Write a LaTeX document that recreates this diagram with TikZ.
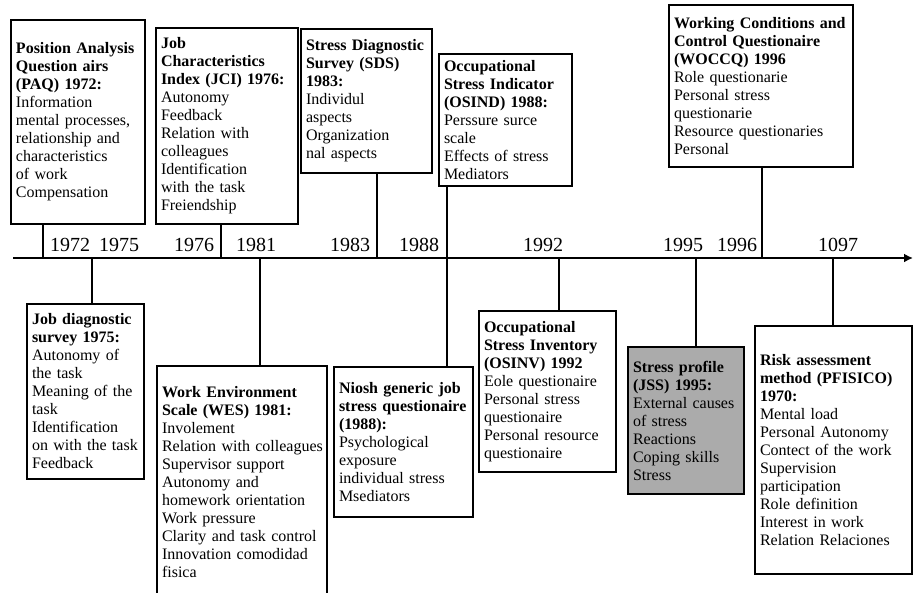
\documentclass[tikz,border=0pt]{standalone}
\usepackage{fontspec}
\setmainfont{Liberation Serif}
\usepackage{tikz}
\usetikzlibrary{arrows.meta}
\tikzstyle{box} = [rectangle, draw=black, line width=2pt, anchor=north west, inner xsep=5pt, inner ysep=0pt, align=left, font=\fontsize{16}{18}\selectfont]
\tikzstyle{greybox} = [box, fill=black!33]
\tikzstyle{year} = [font=\fontsize{20}{22}\selectfont, inner sep=0pt]
\tikzstyle{conn} = [line width=2pt]
\tikzstyle{axis} = [line width=2pt, -{Latex[length=9pt,width=9pt]}]

\begin{document}
\begin{tikzpicture}[x=1pt,y=-1pt]
\useasboundingbox (0,0) rectangle (913,592);
%boxes above the axis
\node[box, minimum width=134, minimum height=204, text width=124](paq) at (10,19){\textbf{Position Analysis}\\\textbf{Question airs}\\\textbf{(PAQ) 1972:}\\Information\\mental processes,\\relationship and\\characteristics\\of work\\Compensation};
\node[box, minimum width=142, minimum height=196, text width=132](jci) at (155,27){\textbf{Job}\\\textbf{Characteristics}\\\textbf{Index (JCI) 1976:}\\Autonomy\\Feedback\\Relation with\\colleagues\\Identification\\with the task\\Freiendship};
\node[box, minimum width=131, minimum height=144, text width=121](sds) at (300,28){\textbf{Stress Diagnostic}\\\textbf{Survey (SDS)}\\\textbf{1983:}\\Individul\\aspects\\Organization\\nal aspects};
\node[box, minimum width=133, minimum height=132, text width=123](osind) at (438,53){\textbf{Occupational}\\\textbf{Stress Indicator}\\\textbf{(OSIND) 1988:}\\Perssure surce\\scale\\Effects of stress\\Mediators};
\node[box, minimum width=184, minimum height=162, text width=174](woccq) at (668,4){\mbox{\textbf{Working Conditions and}}\\\textbf{Control Questionaire}\\\textbf{(WOCCQ) 1996}\\Role questionarie\\Personal stress\\questionarie\\Resource questionaries\\Personal};
%boxes below the axis
\node[box, minimum width=117, minimum height=175, text width=107](jds) at (26,303){\textbf{Job diagnostic}\\\textbf{survey 1975:}\\Autonomy of\\the task\\Meaning of the\\task\\Identification\\\mbox{on with the task}\\Feedback};
\node[box, minimum width=170, minimum height=232, text width=160](wes) at (156,365){\textbf{Work Environment}\\\textbf{Scale (WES) 1981:}\\Involement\\\mbox{Relation with colleagues}\\Supervisor support\\Autonomy and\\homework orientation\\Work pressure\\\mbox{Clarity and task control}\\Innovation comodidad\\fisica};
\node[box, minimum width=139, minimum height=150, text width=129](niosh) at (333,366){\textbf{Niosh generic job}\\\mbox{\textbf{stress questionaire}}\\\textbf{(1988):}\\Psychological\\exposure\\individual stress\\Msediators};
\node[box, minimum width=137, minimum height=161, text width=127](osinv) at (478,310){\textbf{Occupational}\\\textbf{Stress Inventory}\\\textbf{(OSINV) 1992}\\Eole questionaire\\Personal stress\\questionaire\\Personal resource\\questionaire};
\node[greybox, minimum width=116, minimum height=147, text width=106](jss) at (627,346){\textbf{Stress profile}\\\textbf{(JSS) 1995:}\\External causes\\of stress\\Reactions\\Coping skills\\Stress};
\node[box, minimum width=157, minimum height=248, text width=147](risk) at (754,325){\textbf{Risk assessment}\\\textbf{method (PFISICO)}\\\textbf{1970:}\\Mental load\\Personal Autonomy\\Contect of the work\\Supervision\\participation\\Role definition\\Interest in work\\Relation Relaciones};
%axis and the points on it
\coordinate (axstart) at (13,258);
\coordinate (axend) at (913,258);
\coordinate (paqax) at (43,258);
\coordinate (jdsax) at (92,258);
\coordinate (jciax) at (221,258);
\coordinate (wesax) at (260,258);
\coordinate (sdsax) at (377,258);
\coordinate (osax) at (447,258);
\coordinate (osinvax) at (559,258);
\coordinate (jssax) at (696,258);
\coordinate (woccqax) at (762,258);
\coordinate (riskax) at (833,258);
\draw [axis] (axstart) -- (axend);
%years
\node[year](y72) at (70,245){1972};
\node[year](y75) at (119,245){1975};
\node[year](y76) at (194,245){1976};
\node[year](y81) at (256,245){1981};
\node[year](y83) at (350,245){1983};
\node[year](y88) at (419,245){1988};
\node[year](y92) at (543,245){1992};
\node[year](y95) at (683,245){1995};
\node[year](y96) at (737,245){1996};
\node[year](y97) at (838,245){1097};
%connectors
\draw [conn] (paq.south -| paqax) -- (paqax);
\draw [conn] (jci.south -| jciax) -- (jciax);
\draw [conn] (sds.south -| sdsax) -- (sdsax);
\draw [conn] (osind.south -| osax) -- (osax);
\draw [conn] (woccq.south -| woccqax) -- (woccqax);
\draw [conn] (jdsax) -- (jds.north -| jdsax);
\draw [conn] (wesax) -- (wes.north -| wesax);
\draw [conn] (osax) -- (niosh.north -| osax);
\draw [conn] (osinvax) -- (osinv.north -| osinvax);
\draw [conn] (jssax) -- (jss.north -| jssax);
\draw [conn] (riskax) -- (risk.north -| riskax);
\end{tikzpicture}
\end{document}
